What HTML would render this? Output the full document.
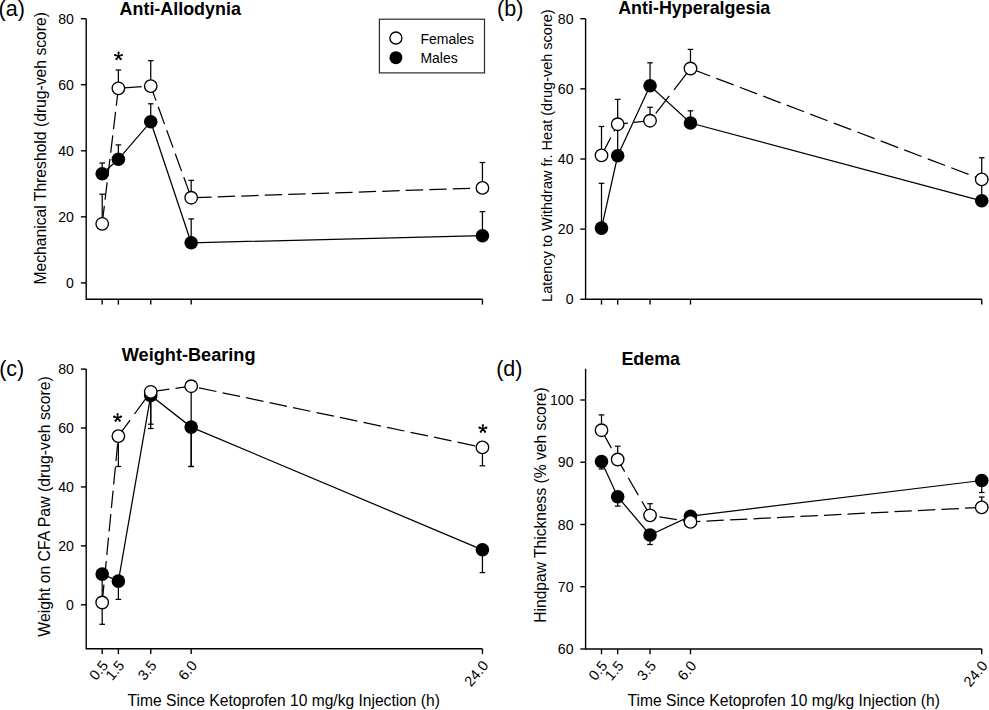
<!DOCTYPE html>
<html><head><meta charset="utf-8"><style>
html,body{margin:0;padding:0;background:#fff;width:989px;height:710px;overflow:hidden}
svg{display:block}
text{font-family:"Liberation Sans", sans-serif;fill:#000}
</style></head><body>
<svg width="989" height="710" viewBox="0 0 989 710">
<rect width="989" height="710" fill="#fff"/>
<path d="M86.2,18.7 V299.3 H482.4" fill="none" stroke="#000" stroke-width="1.4" stroke-linejoin="miter"/>
<line x1="80.9" y1="282.9" x2="86.2" y2="282.9" stroke="#000" stroke-width="1.4"/>
<text transform="translate(73.9 288.00) scale(0.93 1.0)" font-size="15.2" text-anchor="end">0</text>
<line x1="80.9" y1="216.84999999999997" x2="86.2" y2="216.84999999999997" stroke="#000" stroke-width="1.4"/>
<text transform="translate(73.9 221.95) scale(0.93 1.0)" font-size="15.2" text-anchor="end">20</text>
<line x1="80.9" y1="150.79999999999995" x2="86.2" y2="150.79999999999995" stroke="#000" stroke-width="1.4"/>
<text transform="translate(73.9 155.90) scale(0.93 1.0)" font-size="15.2" text-anchor="end">40</text>
<line x1="80.9" y1="84.74999999999997" x2="86.2" y2="84.74999999999997" stroke="#000" stroke-width="1.4"/>
<text transform="translate(73.9 89.85) scale(0.93 1.0)" font-size="15.2" text-anchor="end">60</text>
<line x1="80.9" y1="18.699999999999932" x2="86.2" y2="18.699999999999932" stroke="#000" stroke-width="1.4"/>
<text transform="translate(73.9 23.80) scale(0.93 1.0)" font-size="15.2" text-anchor="end">80</text>
<line x1="102.20" y1="299.3" x2="102.20" y2="304.6" stroke="#000" stroke-width="1.4"/>
<line x1="118.38" y1="299.3" x2="118.38" y2="304.6" stroke="#000" stroke-width="1.4"/>
<line x1="150.74" y1="299.3" x2="150.74" y2="304.6" stroke="#000" stroke-width="1.4"/>
<line x1="191.19" y1="299.3" x2="191.19" y2="304.6" stroke="#000" stroke-width="1.4"/>
<line x1="482.43" y1="299.3" x2="482.43" y2="304.6" stroke="#000" stroke-width="1.4"/>
<text x="46.5" y="148.3" font-size="15.7" text-anchor="middle" transform="rotate(-90 46.5 148.3)">Mechanical Threshold (drug-veh score)</text>
<text x="119.6" y="14.8" font-size="17.9" font-weight="bold">Anti-Allodynia</text>
<text x="-1.4" y="15.8" font-size="21.5">(a)</text>
<line x1="102.20" y1="173.8" x2="102.20" y2="163" stroke="#000" stroke-width="1.25"/>
<line x1="99.40" y1="163" x2="105.00" y2="163" stroke="#000" stroke-width="1.25"/>
<line x1="118.38" y1="159.3" x2="118.38" y2="144.9" stroke="#000" stroke-width="1.25"/>
<line x1="115.58" y1="144.9" x2="121.18" y2="144.9" stroke="#000" stroke-width="1.25"/>
<line x1="150.74" y1="121.7" x2="150.74" y2="103.8" stroke="#000" stroke-width="1.25"/>
<line x1="147.94" y1="103.8" x2="153.54" y2="103.8" stroke="#000" stroke-width="1.25"/>
<line x1="191.19" y1="242.8" x2="191.19" y2="218.9" stroke="#000" stroke-width="1.25"/>
<line x1="188.39" y1="218.9" x2="193.99" y2="218.9" stroke="#000" stroke-width="1.25"/>
<line x1="482.43" y1="235.7" x2="482.43" y2="211.6" stroke="#000" stroke-width="1.25"/>
<line x1="479.63" y1="211.6" x2="485.23" y2="211.6" stroke="#000" stroke-width="1.25"/>
<path d="M102.20,173.8 L118.38,159.3 L150.74,121.7 L191.19,242.8 L482.43,235.7" fill="none" stroke="#000" stroke-width="1.25"/>
<circle cx="102.20" cy="173.8" r="6.8" fill="#000"/>
<circle cx="118.38" cy="159.3" r="6.8" fill="#000"/>
<circle cx="150.74" cy="121.7" r="6.8" fill="#000"/>
<circle cx="191.19" cy="242.8" r="6.8" fill="#000"/>
<circle cx="482.43" cy="235.7" r="6.8" fill="#000"/>
<line x1="102.20" y1="223.8" x2="102.20" y2="194.2" stroke="#000" stroke-width="1.25"/>
<line x1="99.40" y1="194.2" x2="105.00" y2="194.2" stroke="#000" stroke-width="1.25"/>
<line x1="118.38" y1="88.3" x2="118.38" y2="70" stroke="#000" stroke-width="1.25"/>
<line x1="115.58" y1="70" x2="121.18" y2="70" stroke="#000" stroke-width="1.25"/>
<line x1="150.74" y1="86.1" x2="150.74" y2="60.7" stroke="#000" stroke-width="1.25"/>
<line x1="147.94" y1="60.7" x2="153.54" y2="60.7" stroke="#000" stroke-width="1.25"/>
<line x1="191.19" y1="197.7" x2="191.19" y2="180.4" stroke="#000" stroke-width="1.25"/>
<line x1="188.39" y1="180.4" x2="193.99" y2="180.4" stroke="#000" stroke-width="1.25"/>
<line x1="482.43" y1="187.9" x2="482.43" y2="162.5" stroke="#000" stroke-width="1.25"/>
<line x1="479.63" y1="162.5" x2="485.23" y2="162.5" stroke="#000" stroke-width="1.25"/>
<line x1="102.20" y1="223.8" x2="118.38" y2="88.3" stroke="#000" stroke-width="1.25" stroke-dasharray="17.524 6.143" stroke-dashoffset="23.163"/>
<line x1="118.38" y1="88.3" x2="150.74" y2="86.1" stroke="#000" stroke-width="1.25" stroke-dasharray="17.440 6.114" stroke-dashoffset="17.540"/>
<line x1="150.74" y1="86.1" x2="191.19" y2="197.7" stroke="#000" stroke-width="1.25" stroke-dasharray="18.508 6.488" stroke-dashoffset="3.042"/>
<line x1="191.19" y1="197.7" x2="482.43" y2="187.9" stroke="#000" stroke-width="1.25" stroke-dasharray="17.410 6.103" stroke-dashoffset="20.472"/>
<circle cx="102.20" cy="223.8" r="6.25" fill="#fff" stroke="#000" stroke-width="1.35"/>
<circle cx="118.38" cy="88.3" r="6.25" fill="#fff" stroke="#000" stroke-width="1.35"/>
<circle cx="150.74" cy="86.1" r="6.25" fill="#fff" stroke="#000" stroke-width="1.35"/>
<circle cx="191.19" cy="197.7" r="6.25" fill="#fff" stroke="#000" stroke-width="1.35"/>
<circle cx="482.43" cy="187.9" r="6.25" fill="#fff" stroke="#000" stroke-width="1.35"/>
<path d="M118.55,56.20 L118.55,52.70 M118.55,56.20 L121.88,55.12 M118.55,56.20 L120.61,59.03 M118.55,56.20 L116.49,59.03 M118.55,56.20 L115.22,55.12 " stroke="#000" stroke-width="1.45" stroke-linecap="round" fill="none"/><circle cx="118.55" cy="52.70" r="1.15" fill="#000"/><circle cx="121.88" cy="55.12" r="1.15" fill="#000"/><circle cx="120.61" cy="59.03" r="1.15" fill="#000"/><circle cx="116.49" cy="59.03" r="1.15" fill="#000"/><circle cx="115.22" cy="55.12" r="1.15" fill="#000"/>
<rect x="379.4" y="19.2" width="105.1" height="53.7" fill="#fff" stroke="#2a2a2a" stroke-width="1.2"/>
<circle cx="395.9" cy="38" r="6.0" fill="#fff" stroke="#000" stroke-width="1.35"/>
<circle cx="395.9" cy="57.7" r="6.5" fill="#000"/>
<text x="420.4" y="43.7" font-size="14">Females</text>
<text x="420.4" y="62.7" font-size="14">Males</text>
<path d="M585.6,18.7 V299.3 H981.8" fill="none" stroke="#000" stroke-width="1.4" stroke-linejoin="miter"/>
<line x1="580.3000000000001" y1="299.3" x2="585.6" y2="299.3" stroke="#000" stroke-width="1.4"/>
<text transform="translate(573.5 304.40) scale(0.93 1.0)" font-size="15.2" text-anchor="end">0</text>
<line x1="580.3000000000001" y1="229.15" x2="585.6" y2="229.15" stroke="#000" stroke-width="1.4"/>
<text transform="translate(573.5 234.25) scale(0.93 1.0)" font-size="15.2" text-anchor="end">20</text>
<line x1="580.3000000000001" y1="159.0" x2="585.6" y2="159.0" stroke="#000" stroke-width="1.4"/>
<text transform="translate(573.5 164.10) scale(0.93 1.0)" font-size="15.2" text-anchor="end">40</text>
<line x1="580.3000000000001" y1="88.85000000000002" x2="585.6" y2="88.85000000000002" stroke="#000" stroke-width="1.4"/>
<text transform="translate(573.5 93.95) scale(0.93 1.0)" font-size="15.2" text-anchor="end">60</text>
<line x1="580.3000000000001" y1="18.69999999999999" x2="585.6" y2="18.69999999999999" stroke="#000" stroke-width="1.4"/>
<text transform="translate(573.5 23.80) scale(0.93 1.0)" font-size="15.2" text-anchor="end">80</text>
<line x1="601.50" y1="299.3" x2="601.50" y2="304.6" stroke="#000" stroke-width="1.4"/>
<line x1="617.68" y1="299.3" x2="617.68" y2="304.6" stroke="#000" stroke-width="1.4"/>
<line x1="650.04" y1="299.3" x2="650.04" y2="304.6" stroke="#000" stroke-width="1.4"/>
<line x1="690.49" y1="299.3" x2="690.49" y2="304.6" stroke="#000" stroke-width="1.4"/>
<line x1="981.73" y1="299.3" x2="981.73" y2="304.6" stroke="#000" stroke-width="1.4"/>
<text x="551.6" y="155.6" font-size="14.5" text-anchor="middle" transform="rotate(-90 551.6 155.6)">Latency to Withdraw fr. Heat (drug-veh score)</text>
<text x="618.2" y="13.7" font-size="17.9" font-weight="bold">Anti-Hyperalgesia</text>
<text x="497.1" y="15.8" font-size="21.5">(b)</text>
<line x1="601.50" y1="228.1" x2="601.50" y2="183.3" stroke="#000" stroke-width="1.25"/>
<line x1="598.70" y1="183.3" x2="604.30" y2="183.3" stroke="#000" stroke-width="1.25"/>
<line x1="617.68" y1="155.8" x2="617.68" y2="124.0" stroke="#000" stroke-width="1.25"/>
<line x1="614.88" y1="124.0" x2="620.48" y2="124.0" stroke="#000" stroke-width="1.25"/>
<line x1="650.04" y1="85.8" x2="650.04" y2="62.8" stroke="#000" stroke-width="1.25"/>
<line x1="647.24" y1="62.8" x2="652.84" y2="62.8" stroke="#000" stroke-width="1.25"/>
<line x1="690.49" y1="123.0" x2="690.49" y2="110.8" stroke="#000" stroke-width="1.25"/>
<line x1="687.69" y1="110.8" x2="693.29" y2="110.8" stroke="#000" stroke-width="1.25"/>
<line x1="981.73" y1="200.8" x2="981.73" y2="180.0" stroke="#000" stroke-width="1.25"/>
<line x1="978.93" y1="180.0" x2="984.53" y2="180.0" stroke="#000" stroke-width="1.25"/>
<path d="M601.50,228.1 L617.68,155.8 L650.04,85.8 L690.49,123.0 L981.73,200.8" fill="none" stroke="#000" stroke-width="1.25"/>
<circle cx="601.50" cy="228.1" r="6.8" fill="#000"/>
<circle cx="617.68" cy="155.8" r="6.8" fill="#000"/>
<circle cx="650.04" cy="85.8" r="6.8" fill="#000"/>
<circle cx="690.49" cy="123.0" r="6.8" fill="#000"/>
<circle cx="981.73" cy="200.8" r="6.8" fill="#000"/>
<line x1="601.50" y1="155.4" x2="601.50" y2="126.5" stroke="#000" stroke-width="1.25"/>
<line x1="598.70" y1="126.5" x2="604.30" y2="126.5" stroke="#000" stroke-width="1.25"/>
<line x1="617.68" y1="124.2" x2="617.68" y2="99.4" stroke="#000" stroke-width="1.25"/>
<line x1="614.88" y1="99.4" x2="620.48" y2="99.4" stroke="#000" stroke-width="1.25"/>
<line x1="650.04" y1="120.7" x2="650.04" y2="107.3" stroke="#000" stroke-width="1.25"/>
<line x1="647.24" y1="107.3" x2="652.84" y2="107.3" stroke="#000" stroke-width="1.25"/>
<line x1="690.49" y1="68.5" x2="690.49" y2="49.4" stroke="#000" stroke-width="1.25"/>
<line x1="687.69" y1="49.4" x2="693.29" y2="49.4" stroke="#000" stroke-width="1.25"/>
<line x1="981.73" y1="179.4" x2="981.73" y2="157.8" stroke="#000" stroke-width="1.25"/>
<line x1="978.93" y1="157.8" x2="984.53" y2="157.8" stroke="#000" stroke-width="1.25"/>
<line x1="601.50" y1="155.4" x2="617.68" y2="124.2" stroke="#000" stroke-width="1.25" stroke-dasharray="19.601 6.871" stroke-dashoffset="25.909"/>
<line x1="617.68" y1="124.2" x2="650.04" y2="120.7" stroke="#000" stroke-width="1.25" stroke-dasharray="17.501 6.136" stroke-dashoffset="7.242"/>
<line x1="650.04" y1="120.7" x2="690.49" y2="68.5" stroke="#000" stroke-width="1.25" stroke-dasharray="22.013 7.717" stroke-dashoffset="20.317"/>
<line x1="690.49" y1="68.5" x2="981.73" y2="179.4" stroke="#000" stroke-width="1.25" stroke-dasharray="18.619 6.527" stroke-dashoffset="22.749"/>
<circle cx="601.50" cy="155.4" r="6.25" fill="#fff" stroke="#000" stroke-width="1.35"/>
<circle cx="617.68" cy="124.2" r="6.25" fill="#fff" stroke="#000" stroke-width="1.35"/>
<circle cx="650.04" cy="120.7" r="6.25" fill="#fff" stroke="#000" stroke-width="1.35"/>
<circle cx="690.49" cy="68.5" r="6.25" fill="#fff" stroke="#000" stroke-width="1.35"/>
<circle cx="981.73" cy="179.4" r="6.25" fill="#fff" stroke="#000" stroke-width="1.35"/>
<path d="M86.2,369.1 V648.8 H482.4" fill="none" stroke="#000" stroke-width="1.4" stroke-linejoin="miter"/>
<line x1="80.9" y1="604.8" x2="86.2" y2="604.8" stroke="#000" stroke-width="1.4"/>
<text transform="translate(73.9 609.90) scale(0.93 1.0)" font-size="15.2" text-anchor="end">0</text>
<line x1="80.9" y1="545.875" x2="86.2" y2="545.875" stroke="#000" stroke-width="1.4"/>
<text transform="translate(73.9 550.98) scale(0.93 1.0)" font-size="15.2" text-anchor="end">20</text>
<line x1="80.9" y1="486.94999999999993" x2="86.2" y2="486.94999999999993" stroke="#000" stroke-width="1.4"/>
<text transform="translate(73.9 492.05) scale(0.93 1.0)" font-size="15.2" text-anchor="end">40</text>
<line x1="80.9" y1="428.025" x2="86.2" y2="428.025" stroke="#000" stroke-width="1.4"/>
<text transform="translate(73.9 433.12) scale(0.93 1.0)" font-size="15.2" text-anchor="end">60</text>
<line x1="80.9" y1="369.09999999999997" x2="86.2" y2="369.09999999999997" stroke="#000" stroke-width="1.4"/>
<text transform="translate(73.9 374.20) scale(0.93 1.0)" font-size="15.2" text-anchor="end">80</text>
<line x1="102.20" y1="648.8" x2="102.20" y2="654.0999999999999" stroke="#000" stroke-width="1.4"/>
<line x1="118.38" y1="648.8" x2="118.38" y2="654.0999999999999" stroke="#000" stroke-width="1.4"/>
<line x1="150.74" y1="648.8" x2="150.74" y2="654.0999999999999" stroke="#000" stroke-width="1.4"/>
<line x1="191.19" y1="648.8" x2="191.19" y2="654.0999999999999" stroke="#000" stroke-width="1.4"/>
<line x1="482.43" y1="648.8" x2="482.43" y2="654.0999999999999" stroke="#000" stroke-width="1.4"/>
<text x="109.00" y="665.80" font-size="14.5" text-anchor="end" transform="rotate(-50 109.00 665.80)">0.5</text>
<text x="125.18" y="665.80" font-size="14.5" text-anchor="end" transform="rotate(-50 125.18 665.80)">1.5</text>
<text x="157.54" y="665.80" font-size="14.5" text-anchor="end" transform="rotate(-50 157.54 665.80)">3.5</text>
<text x="197.99" y="665.80" font-size="14.5" text-anchor="end" transform="rotate(-50 197.99 665.80)">6.0</text>
<text x="489.23" y="665.80" font-size="14.5" text-anchor="end" transform="rotate(-50 489.23 665.80)">24.0</text>
<text x="127.6" y="706.4" font-size="15.6">Time Since Ketoprofen 10 mg/kg Injection (h)</text>
<text x="50.2" y="506.4" font-size="15.8" text-anchor="middle" transform="rotate(-90 50.2 506.4)">Weight on CFA Paw (drug-veh score)</text>
<text x="121.8" y="361.3" font-size="18.15" font-weight="bold">Weight-Bearing</text>
<text x="-0.8" y="375.5" font-size="21.5">(c)</text>
<line x1="102.20" y1="574.1" x2="102.20" y2="600" stroke="#000" stroke-width="1.25"/>
<line x1="99.40" y1="600" x2="105.00" y2="600" stroke="#000" stroke-width="1.25"/>
<line x1="118.38" y1="581.1" x2="118.38" y2="599.4" stroke="#000" stroke-width="1.25"/>
<line x1="115.58" y1="599.4" x2="121.18" y2="599.4" stroke="#000" stroke-width="1.25"/>
<line x1="150.74" y1="395.5" x2="150.74" y2="428.5" stroke="#000" stroke-width="1.25"/>
<line x1="147.94" y1="428.5" x2="153.54" y2="428.5" stroke="#000" stroke-width="1.25"/>
<line x1="191.19" y1="427.1" x2="191.19" y2="466.5" stroke="#000" stroke-width="1.25"/>
<line x1="188.39" y1="466.5" x2="193.99" y2="466.5" stroke="#000" stroke-width="1.25"/>
<line x1="482.43" y1="549.8" x2="482.43" y2="572.6" stroke="#000" stroke-width="1.25"/>
<line x1="479.63" y1="572.6" x2="485.23" y2="572.6" stroke="#000" stroke-width="1.25"/>
<path d="M102.20,574.1 L118.38,581.1 L150.74,395.5 L191.19,427.1 L482.43,549.8" fill="none" stroke="#000" stroke-width="1.25"/>
<circle cx="102.20" cy="574.1" r="6.8" fill="#000"/>
<circle cx="118.38" cy="581.1" r="6.8" fill="#000"/>
<circle cx="150.74" cy="395.5" r="6.8" fill="#000"/>
<circle cx="191.19" cy="427.1" r="6.8" fill="#000"/>
<circle cx="482.43" cy="549.8" r="6.8" fill="#000"/>
<line x1="102.20" y1="602.5" x2="102.20" y2="624.3" stroke="#000" stroke-width="1.25"/>
<line x1="99.40" y1="624.3" x2="105.00" y2="624.3" stroke="#000" stroke-width="1.25"/>
<line x1="118.38" y1="436.1" x2="118.38" y2="466.5" stroke="#000" stroke-width="1.25"/>
<line x1="115.58" y1="466.5" x2="121.18" y2="466.5" stroke="#000" stroke-width="1.25"/>
<line x1="150.74" y1="391.8" x2="150.74" y2="424.2" stroke="#000" stroke-width="1.25"/>
<line x1="147.94" y1="424.2" x2="153.54" y2="424.2" stroke="#000" stroke-width="1.25"/>
<line x1="191.19" y1="386.2" x2="191.19" y2="466.5" stroke="#000" stroke-width="1.25"/>
<line x1="188.39" y1="466.5" x2="193.99" y2="466.5" stroke="#000" stroke-width="1.25"/>
<line x1="482.43" y1="447.4" x2="482.43" y2="465.8" stroke="#000" stroke-width="1.25"/>
<line x1="479.63" y1="465.8" x2="485.23" y2="465.8" stroke="#000" stroke-width="1.25"/>
<line x1="102.20" y1="602.5" x2="118.38" y2="436.1" stroke="#000" stroke-width="1.25" stroke-dasharray="17.482 6.129" stroke-dashoffset="23.108"/>
<line x1="118.38" y1="436.1" x2="150.74" y2="391.8" stroke="#000" stroke-width="1.25" stroke-dasharray="21.548 7.554" stroke-dashoffset="1.734"/>
<line x1="150.74" y1="391.8" x2="191.19" y2="386.2" stroke="#000" stroke-width="1.25" stroke-dasharray="17.566 6.158" stroke-dashoffset="22.412"/>
<line x1="191.19" y1="386.2" x2="482.43" y2="447.4" stroke="#000" stroke-width="1.25" stroke-dasharray="17.780 6.233" stroke-dashoffset="15.992"/>
<circle cx="102.20" cy="602.5" r="6.25" fill="#fff" stroke="#000" stroke-width="1.35"/>
<circle cx="118.38" cy="436.1" r="6.25" fill="#fff" stroke="#000" stroke-width="1.35"/>
<circle cx="150.74" cy="391.8" r="6.25" fill="#fff" stroke="#000" stroke-width="1.35"/>
<circle cx="191.19" cy="386.2" r="6.25" fill="#fff" stroke="#000" stroke-width="1.35"/>
<circle cx="482.43" cy="447.4" r="6.25" fill="#fff" stroke="#000" stroke-width="1.35"/>
<path d="M117.60,417.80 L117.60,414.30 M117.60,417.80 L120.93,416.72 M117.60,417.80 L119.66,420.63 M117.60,417.80 L115.54,420.63 M117.60,417.80 L114.27,416.72 " stroke="#000" stroke-width="1.45" stroke-linecap="round" fill="none"/><circle cx="117.60" cy="414.30" r="1.15" fill="#000"/><circle cx="120.93" cy="416.72" r="1.15" fill="#000"/><circle cx="119.66" cy="420.63" r="1.15" fill="#000"/><circle cx="115.54" cy="420.63" r="1.15" fill="#000"/><circle cx="114.27" cy="416.72" r="1.15" fill="#000"/>
<path d="M482.90,428.80 L482.90,425.30 M482.90,428.80 L486.23,427.72 M482.90,428.80 L484.96,431.63 M482.90,428.80 L480.84,431.63 M482.90,428.80 L479.57,427.72 " stroke="#000" stroke-width="1.45" stroke-linecap="round" fill="none"/><circle cx="482.90" cy="425.30" r="1.15" fill="#000"/><circle cx="486.23" cy="427.72" r="1.15" fill="#000"/><circle cx="484.96" cy="431.63" r="1.15" fill="#000"/><circle cx="480.84" cy="431.63" r="1.15" fill="#000"/><circle cx="479.57" cy="427.72" r="1.15" fill="#000"/>
<path d="M585.6,368.7 V649.0 H981.8" fill="none" stroke="#000" stroke-width="1.4" stroke-linejoin="miter"/>
<line x1="580.3000000000001" y1="649.0" x2="585.6" y2="649.0" stroke="#000" stroke-width="1.4"/>
<text transform="translate(573.5 654.10) scale(0.93 1.0)" font-size="15.2" text-anchor="end">60</text>
<line x1="580.3000000000001" y1="586.75" x2="585.6" y2="586.75" stroke="#000" stroke-width="1.4"/>
<text transform="translate(573.5 591.85) scale(0.93 1.0)" font-size="15.2" text-anchor="end">70</text>
<line x1="580.3000000000001" y1="524.5" x2="585.6" y2="524.5" stroke="#000" stroke-width="1.4"/>
<text transform="translate(573.5 529.60) scale(0.93 1.0)" font-size="15.2" text-anchor="end">80</text>
<line x1="580.3000000000001" y1="462.25" x2="585.6" y2="462.25" stroke="#000" stroke-width="1.4"/>
<text transform="translate(573.5 467.35) scale(0.93 1.0)" font-size="15.2" text-anchor="end">90</text>
<line x1="580.3000000000001" y1="400.0" x2="585.6" y2="400.0" stroke="#000" stroke-width="1.4"/>
<text transform="translate(573.5 405.10) scale(0.93 1.0)" font-size="15.2" text-anchor="end">100</text>
<line x1="601.50" y1="649.0" x2="601.50" y2="654.3" stroke="#000" stroke-width="1.4"/>
<line x1="617.68" y1="649.0" x2="617.68" y2="654.3" stroke="#000" stroke-width="1.4"/>
<line x1="650.04" y1="649.0" x2="650.04" y2="654.3" stroke="#000" stroke-width="1.4"/>
<line x1="690.49" y1="649.0" x2="690.49" y2="654.3" stroke="#000" stroke-width="1.4"/>
<line x1="981.73" y1="649.0" x2="981.73" y2="654.3" stroke="#000" stroke-width="1.4"/>
<text x="608.30" y="666.00" font-size="14.5" text-anchor="end" transform="rotate(-50 608.30 666.00)">0.5</text>
<text x="624.48" y="666.00" font-size="14.5" text-anchor="end" transform="rotate(-50 624.48 666.00)">1.5</text>
<text x="656.84" y="666.00" font-size="14.5" text-anchor="end" transform="rotate(-50 656.84 666.00)">3.5</text>
<text x="697.29" y="666.00" font-size="14.5" text-anchor="end" transform="rotate(-50 697.29 666.00)">6.0</text>
<text x="988.53" y="666.00" font-size="14.5" text-anchor="end" transform="rotate(-50 988.53 666.00)">24.0</text>
<text x="627.6" y="706.4" font-size="15.6">Time Since Ketoprofen 10 mg/kg Injection (h)</text>
<text x="545.7" y="505.0" font-size="15.6" text-anchor="middle" transform="rotate(-90 545.7 505.0)">Hindpaw Thickness (% veh score)</text>
<text x="621.4" y="364.6" font-size="17.9" font-weight="bold">Edema</text>
<text x="496.2" y="375.5" font-size="21.5">(d)</text>
<line x1="601.50" y1="461.5" x2="601.50" y2="469" stroke="#000" stroke-width="1.25"/>
<line x1="598.70" y1="469" x2="604.30" y2="469" stroke="#000" stroke-width="1.25"/>
<line x1="617.68" y1="496.7" x2="617.68" y2="506.1" stroke="#000" stroke-width="1.25"/>
<line x1="614.88" y1="506.1" x2="620.48" y2="506.1" stroke="#000" stroke-width="1.25"/>
<line x1="650.04" y1="535.0" x2="650.04" y2="544.5" stroke="#000" stroke-width="1.25"/>
<line x1="647.24" y1="544.5" x2="652.84" y2="544.5" stroke="#000" stroke-width="1.25"/>
<line x1="981.73" y1="480.5" x2="981.73" y2="492.5" stroke="#000" stroke-width="1.25"/>
<line x1="978.93" y1="492.5" x2="984.53" y2="492.5" stroke="#000" stroke-width="1.25"/>
<path d="M601.50,461.5 L617.68,496.7 L650.04,535.0 L690.49,516.2 L981.73,480.5" fill="none" stroke="#000" stroke-width="1.25"/>
<circle cx="601.50" cy="461.5" r="6.8" fill="#000"/>
<circle cx="617.68" cy="496.7" r="6.8" fill="#000"/>
<circle cx="650.04" cy="535.0" r="6.8" fill="#000"/>
<circle cx="690.49" cy="516.2" r="6.8" fill="#000"/>
<circle cx="981.73" cy="480.5" r="6.8" fill="#000"/>
<line x1="601.50" y1="430.2" x2="601.50" y2="414.9" stroke="#000" stroke-width="1.25"/>
<line x1="598.70" y1="414.9" x2="604.30" y2="414.9" stroke="#000" stroke-width="1.25"/>
<line x1="617.68" y1="459.5" x2="617.68" y2="446.2" stroke="#000" stroke-width="1.25"/>
<line x1="614.88" y1="446.2" x2="620.48" y2="446.2" stroke="#000" stroke-width="1.25"/>
<line x1="650.04" y1="515.3" x2="650.04" y2="503.7" stroke="#000" stroke-width="1.25"/>
<line x1="647.24" y1="503.7" x2="652.84" y2="503.7" stroke="#000" stroke-width="1.25"/>
<line x1="981.73" y1="507.4" x2="981.73" y2="497" stroke="#000" stroke-width="1.25"/>
<line x1="978.93" y1="497" x2="984.53" y2="497" stroke="#000" stroke-width="1.25"/>
<line x1="601.50" y1="430.2" x2="617.68" y2="459.5" stroke="#000" stroke-width="1.25" stroke-dasharray="19.877 6.968" stroke-dashoffset="26.274"/>
<line x1="617.68" y1="459.5" x2="650.04" y2="515.3" stroke="#000" stroke-width="1.25" stroke-dasharray="20.114 7.052" stroke-dashoffset="6.127"/>
<line x1="650.04" y1="515.3" x2="690.49" y2="521.9" stroke="#000" stroke-width="1.25" stroke-dasharray="17.630 6.181" stroke-dashoffset="14.286"/>
<line x1="690.49" y1="521.9" x2="981.73" y2="507.4" stroke="#000" stroke-width="1.25" stroke-dasharray="17.422 6.108" stroke-dashoffset="7.559"/>
<circle cx="601.50" cy="430.2" r="6.25" fill="#fff" stroke="#000" stroke-width="1.35"/>
<circle cx="617.68" cy="459.5" r="6.25" fill="#fff" stroke="#000" stroke-width="1.35"/>
<circle cx="650.04" cy="515.3" r="6.25" fill="#fff" stroke="#000" stroke-width="1.35"/>
<circle cx="690.49" cy="521.9" r="6.25" fill="#fff" stroke="#000" stroke-width="1.35"/>
<circle cx="981.73" cy="507.4" r="6.25" fill="#fff" stroke="#000" stroke-width="1.35"/>
</svg></body></html>
